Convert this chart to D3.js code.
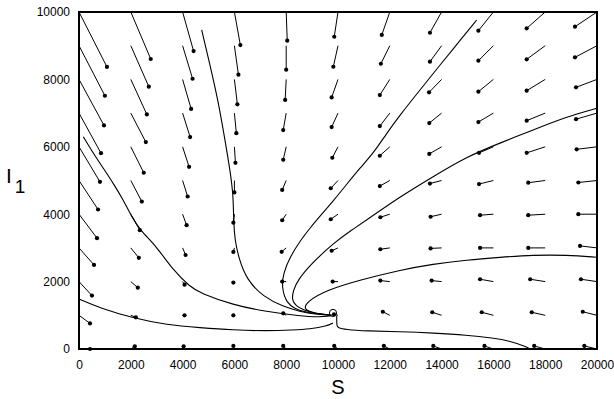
<!DOCTYPE html>
<html>
<head>
<meta charset="utf-8">
<script src="https://cdn.jsdelivr.net/npm/d3@7"></script>
<style>
  html, body { margin: 0; padding: 0; background: #fff; }
  svg { display: block; }
  text { font-family: "Liberation Sans", Arial, sans-serif; fill: #000; }
</style>
</head>
<body>
<div id="chart"></div>
<script>
// ---------- DATA ----------
const sTicks = [0, 2000, 4000, 6000, 8000, 10000, 12000, 14000, 16000, 18000, 20000];
const iTicks = [0, 2000, 4000, 6000, 8000, 10000];

// grid of direction-field arrow tails
const gridS = [0, 2000, 4000, 6000, 8000, 10000, 12000, 14000, 16000, 18000, 20000];
const gridI = [10000, 9000, 8000, 7000, 6000, 5000, 4000, 3000, 2000, 1000, 0];

// arrow displacement (data units), indexed [column of S][row of I]
const arrowDS = [
  [1080, 1000, 965, 850, 810, 735, 695, 580, 500, 425, 425],
  [770, 695, 620, 580, 500, 425, 350, 310, 270, 195, 155],
  [425, 385, 330, 290, 250, 195, 155, 115, 75, 75, 40],
  [230, 155, 115, 75, 40, 0, -40, -40, -40, -40, -40],
  [40, 0, -40, -115, -115, -155, -155, -175, -155, -115, -115],
  [-145, -180, -245, -245, -220, -280, -280, -245, -205, -155, -145],
  [-310, -345, -385, -385, -385, -385, -365, -365, -365, -270, -230],
  [-450, -450, -485, -475, -475, -450, -425, -425, -385, -360, -320],
  [-580, -580, -580, -580, -555, -555, -515, -515, -515, -450, -345],
  [-715, -715, -715, -715, -715, -655, -655, -655, -580, -520, -425],
  [-850, -850, -810, -810, -785, -720, -720, -655, -620, -550, -490]
];
const arrowDI = [
  [-1630, -1485, -1365, -1190, -1040, -860, -710, -505, -415, -240, 0],
  [-1395, -1215, -1040, -860, -770, -625, -475, -295, -180, -60, 80],
  [-1160, -980, -875, -710, -595, -475, -325, -210, -90, 0, 80],
  [-980, -860, -740, -595, -475, -355, -250, -120, -30, 0, 90],
  [-850, -710, -610, -505, -385, -280, -180, -115, 0, 60, 90],
  [-735, -625, -535, -415, -325, -230, -150, -85, 0, 30, 90],
  [-680, -535, -465, -385, -265, -165, -90, -40, 30, 105, 90],
  [-615, -475, -385, -295, -210, -90, -75, -15, 30, 90, 90],
  [-555, -445, -365, -265, -180, -105, -30, 0, 70, 90, 90],
  [-485, -405, -335, -225, -180, -65, -30, 0, 70, 90, 90],
  [-435, -345, -235, -180, -75, -60, 0, 60, 70, 105, 90]
];

// solution curves (S, I)
const traj1S = [166, 552, 938, 1324, 1710, 2035, 2355, 3000, 3629, 4286, 4672, 5946, 7247, 8533, 9300, 9750];
const traj1I = [6300, 5807, 5362, 4917, 4421, 3926, 3531, 3036, 2344, 1849, 1662, 1306, 1107, 979, 945, 990];

const traj2S = [0, 811, 2085, 3398, 4672, 5946, 7259, 8263, 8919, 9576, 9807];
const traj2I = [1484, 1217, 920, 712, 632, 564, 534, 564, 593, 682, 771];

const traj3S = [4737, 5058, 5367, 5637, 5830, 5958, 5970, 6023, 6151, 6475, 7116, 7888, 8533, 9112, 9757];
const traj3I = [9466, 8427, 7389, 6202, 5312, 4570, 3730, 3234, 2739, 2048, 1552, 1255, 1113, 1024, 1009];

const traj4S = [15355, 14633, 13938, 13166, 12394, 11880, 11363, 10849, 10347, 9845, 9344, 8919, 8533, 8147, 7888, 7826, 8019, 8340, 8660, 9189, 9691];
const traj4I = [9763, 9080, 8427, 7686, 6944, 6401, 5807, 5371, 4896, 4421, 3976, 3591, 3205, 2730, 2255, 1810, 1356, 1202, 1107, 1039, 1009];

const traj5S = [19988, 18830, 17529, 16255, 14969, 13668, 12394, 11108, 10529, 9819, 8919, 8456, 8274, 8212, 8379, 8660, 9151, 9691];
const traj5I = [7143, 6893, 6498, 6113, 5706, 5113, 4519, 3828, 3531, 3137, 2493, 2048, 1751, 1454, 1276, 1157, 1053, 1009];

const traj6S = [19988, 18830, 17529, 16255, 14969, 13668, 12394, 10849, 9564, 8791, 8660, 9151, 9691];
const traj6I = [2721, 2789, 2789, 2721, 2641, 2522, 2344, 2048, 1751, 1404, 1157, 1053, 1009];

const traj7S = [17413, 17286, 16641, 15985, 14969, 13668, 12394, 11108, 10270, 10000, 9950, 9950];
const traj7I = [0, 68, 237, 326, 415, 475, 513, 534, 579, 632, 682, 979];

const equilibriumS = [9807];
const equilibriumI = [1070];

// ---------- LAYOUT ----------
const W = 614, H = 399;
const margin = { left: 79, right: 17, top: 12, bottom: 50 };

const svg = d3.select("#chart").append("svg")
  .attr("width", W).attr("height", H);

const x = d3.scaleLinear().domain([0, 20000]).range([margin.left, W - margin.right]);
const y = d3.scaleLinear().domain([0, 10000]).range([H - margin.bottom, margin.top]);

// ---------- DIRECTION FIELD ----------
const arrows = [];
gridS.forEach((s, ci) => {
  gridI.forEach((iv, ri) => {
    arrows.push({ s, i: iv, ds: arrowDS[ci][ri], di: arrowDI[ci][ri] });
  });
});

const gA = svg.append("g");
gA.selectAll("line.arrow").data(arrows).join("line")
  .attr("class", "arrow")
  .attr("x1", d => x(d.s)).attr("y1", d => y(d.i))
  .attr("x2", d => x(d.s + d.ds)).attr("y2", d => y(d.i + d.di))
  .attr("stroke", "#000").attr("stroke-width", 1);
gA.selectAll("circle.head").data(arrows).join("circle")
  .attr("class", "head")
  .attr("cx", d => x(d.s + d.ds)).attr("cy", d => y(d.i + d.di))
  .attr("r", 2.1).attr("fill", "#000");

// ---------- TRAJECTORIES ----------
const trajs = [
  [traj1S, traj1I], [traj2S, traj2I], [traj3S, traj3I], [traj4S, traj4I],
  [traj5S, traj5I], [traj6S, traj6I], [traj7S, traj7I]
].map(([ss, is]) => ss.map((s, k) => [s, is[k]]));

const line = d3.line().x(d => x(d[0])).y(d => y(d[1])).curve(d3.curveBasis);
svg.append("g").selectAll("path").data(trajs).join("path")
  .attr("d", line)
  .attr("fill", "none").attr("stroke", "#000").attr("stroke-width", 1.1);

svg.append("g").selectAll("circle").data(equilibriumS).join("circle")
  .attr("cx", (d, k) => x(d)).attr("cy", (d, k) => y(equilibriumI[k]))
  .attr("r", 3.6).attr("fill", "none").attr("stroke", "#000").attr("stroke-width", 1);

// ---------- FRAME ----------
svg.append("rect")
  .attr("x", x(0)).attr("y", y(10000))
  .attr("width", x(20000) - x(0)).attr("height", y(0) - y(10000))
  .attr("fill", "none").attr("stroke", "#000").attr("stroke-width", 2);

// ---------- AXES ----------
const xAxis = d3.axisBottom(x).tickValues(sTicks).tickSize(0).tickPadding(11).tickFormat(d3.format("d"));
const gx = svg.append("g").attr("transform", `translate(0,${y(0)})`).call(xAxis);
gx.select(".domain").remove();
gx.selectAll("text").attr("font-size", 12).attr("font-family", "Liberation Sans, Arial, sans-serif").attr("fill", "#000");

const yAxis = d3.axisLeft(y).tickValues(iTicks).tickSize(0).tickPadding(9).tickFormat(d3.format("d"));
const gy = svg.append("g").attr("transform", `translate(${x(0)},0)`).call(yAxis);
gy.select(".domain").remove();
gy.selectAll("text").attr("font-size", 12).attr("font-family", "Liberation Sans, Arial, sans-serif").attr("fill", "#000");

// axis titles
svg.append("text")
  .attr("x", (x(0) + x(20000)) / 2 + 0).attr("y", 394)
  .attr("text-anchor", "middle").attr("font-size", 20)
  .text("S");

const yl = svg.append("text").attr("x", 6).attr("y", 183).attr("font-size", 21);
yl.append("tspan").text("I");
yl.append("tspan").attr("dx", 3).attr("dy", 10).attr("font-size", 19).text("1");
</script>
</body>
</html>
